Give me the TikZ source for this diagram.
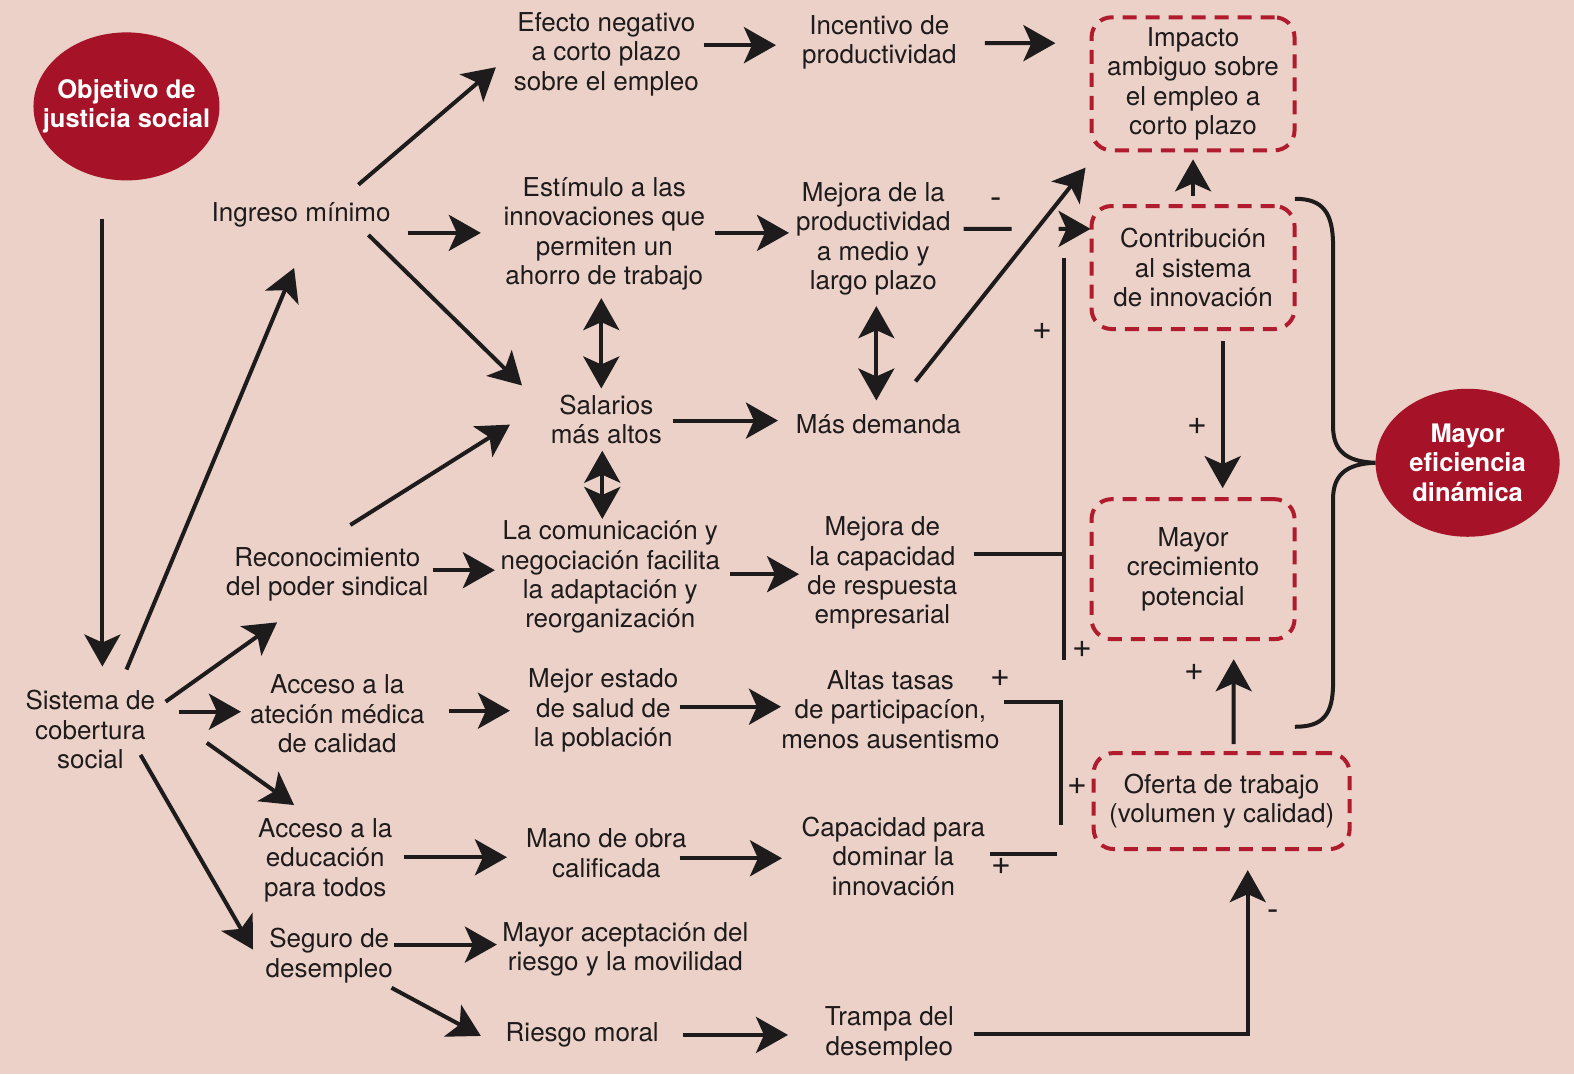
\documentclass[tikz,border=0pt]{standalone}
\usepackage{fontspec}
\setmainfont{TeX Gyre Heros}
\usepackage{xcolor}
\usetikzlibrary{arrows.meta,shapes.geometric}
\definecolor{bgc}{RGB}{235,209,199}
\definecolor{jred}{RGB}{166,18,39}
\definecolor{dred}{RGB}{176,27,46}
\definecolor{ink}{RGB}{30,27,28}

\begin{document}
\begin{tikzpicture}[x=1.0038pt,y=-1.0038pt,>={Stealth[length=32pt,width=36pt,inset=8pt]},
  font=\fontsize{26}{29.4}\selectfont,color=ink,
  txt/.style={align=center,inner sep=0pt,yshift=-2pt},
  arr/.style={->,line width=4pt},
  darr/.style={<->,line width=4pt},
  ln/.style={line width=4pt},
  sgn/.style={inner sep=0pt,font=\fontsize{34}{34}\selectfont},
  dbox/.style={draw=dred,line width=4pt,dash pattern=on 14pt off 9pt,
    rounded corners=20pt,align=center,inner sep=0pt},
  goal/.style={ellipse,fill=jred,text=white,align=center,inner xsep=-18pt,inner ysep=0pt,
    font=\fontsize{25.5}{29.3}\selectfont\bfseries}]
  \fill[bgc] (0,0) rectangle (1568,1070);
  \useasboundingbox (0,0) rectangle (1568,1070);

  % goals
  \node[goal,minimum width=186pt,minimum height=148pt] (obj) at (126,106) {Objetivo de\\justicia social};
  \node[goal,minimum width=184pt,minimum height=148pt] (efi) at (1462,461) {Mayor\\eficiencia\\dinámica};

  % first column
  \node[txt] (sis) at (90,725) {Sistema de\\cobertura\\social};
  \node[txt] (ing) at (300,212) {Ingreso mínimo};
  \node[txt] (rec) at (326,570) {Reconocimiento\\del poder sindical};
  \node[txt] (acm) at (336,709) {Acceso a la\\ateción médica\\de calidad};
  \node[txt] (ace) at (324,855) {Acceso a la\\educación\\para todos};
  \node[txt] (seg) at (328,950) {Seguro de\\desempleo};

  % middle columns
  \node[txt] (efe) at (604,52) {Efecto negativo\\a corto plazo\\sobre el empleo};
  \node[txt] (est) at (602,231) {Estímulo a las\\innovaciones que\\permiten un\\ahorro de trabajo};
  \node[txt] (sal) at (604,416) {Salarios\\más altos};
  \node[txt] (com) at (608,573) {La comunicación y\\negociación facilita\\la adaptación y\\reorganización};
  \node[txt] (mej) at (601,706) {Mejor estado\\de salud de\\la población};
  \node[txt] (man) at (604,848) {Mano de obra\\calificada};
  \node[txt] (may) at (623,944) {Mayor aceptación del\\riesgo y la movilidad};
  \node[txt] (rie) at (580,1029) {Riesgo moral};

  \node[txt] (inc) at (876,40) {Incentivo de\\productividad};
  \node[txt] (mprod) at (870,236) {Mejora de la\\productividad\\a medio y\\largo plazo};
  \node[txt] (mdem) at (875,421) {Más demanda};
  \node[txt] (mcap) at (879,569) {Mejora de\\la capacidad\\de respuesta\\empresarial};
  \node[txt] (alt) at (887,705) {Altas tasas\\de participacíon,\\menos ausentismo};
  \node[txt] (cap) at (890,851) {Capacidad para\\dominar la\\innovación};
  \node[txt] (tra) at (886,1028) {Trampa del\\desempleo};

  % outcome boxes
  \node[dbox,minimum width=203pt,minimum height=133pt] (imp) at (1188.5,83.5) {Impacto\\ambiguo sobre\\el empleo a\\corto plazo};
  \node[dbox,minimum width=203pt,minimum height=123pt] (con) at (1188.5,266.5) {Contribución\\al sistema\\de innovación};
  \node[dbox,minimum width=203pt,minimum height=140pt] (cre) at (1188.5,567) {Mayor\\crecimiento\\potencial};
  \node[dbox,minimum width=256pt,minimum height=96pt] (ofe) at (1217,798) {Oferta de trabajo\\(volumen y calidad)};

  % collector lines
  \coordinate (c1t) at (1060,257);
  \coordinate (c1b) at (1060,657);
  \coordinate (c2b) at (1057,822);

  % arrows from the left
  \draw[arr] ([shift={(-24,112)}]obj.center) -- ([shift={(12,-63)}]sis.center);
  \draw[arr] ([shift={(36,-60)}]sis.center) -- ([shift={(-7,53)}]ing.center);
  \draw[arr] ([shift={(75,-28)}]sis.center) -- ([shift={(-50,48)}]rec.center);
  \draw[arr] ([shift={(88,-18)}]sis.center) -- ([shift={(-96,-2)}]acm.center);
  \draw[arr] ([shift={(116,13)}]sis.center) -- ([shift={(-31,-55)}]ace.center);
  \draw[arr] ([shift={(50,25)}]sis.center) -- ([shift={(-76,-6)}]seg.center);

  \draw[arr] ([shift={(57,-30)}]ing.center) -- ([shift={(-110,13)}]efe.center);
  \draw[arr] ([shift={(106,18)}]ing.center) -- ([shift={(-123,-1)}]est.center);
  \draw[arr] ([shift={(67,20)}]ing.center) -- ([shift={(-84,-34)}]sal.center);
  \draw[arr] ([shift={(23,-49)}]rec.center) -- ([shift={(-96,5)}]sal.center);
  \draw[arr] ([shift={(105,-4)}]rec.center) -- ([shift={(-115,-7)}]com.center);
  \draw[arr] ([shift={(111,-3)}]acm.center) -- ([shift={(-93,0)}]mej.center);
  \draw[arr] ([shift={(78,-3)}]ace.center) -- ([shift={(-99,4)}]man.center);
  \draw[arr] ([shift={(64,-11)}]seg.center) -- ([shift={(-128,-5)}]may.center);
  \draw[arr] ([shift={(62,32)}]seg.center) -- ([shift={(-101,1)}]rie.center);

  % middle
  \draw[arr] ([shift={(97,-9)}]efe.center) -- ([shift={(-103,3)}]inc.center);
  \draw[arr] ([shift={(105,1)}]inc.center) -- ([shift={(-34,-40.5)}]imp.west);
  \draw[arr] ([shift={(110,-1)}]est.center) -- ([shift={(-84,-6)}]mprod.center);
  \draw[darr] ([shift={(-3,64)}]est.center) -- ([shift={(-5,-31)}]sal.center);
  \draw[darr] ([shift={(3,67)}]mprod.center) -- ([shift={(-2,-24)}]mdem.center);
  \draw[darr] ([shift={(-4,31)}]sal.center) -- ([shift={(-8,-58)}]com.center);
  \draw[arr] ([shift={(66,1)}]sal.center) -- ([shift={(-100,-4)}]mdem.center);
  \draw[arr] ([shift={(119,-3)}]com.center) -- ([shift={(-83,1)}]mcap.center);
  \draw[arr] ([shift={(76,-4)}]mej.center) -- ([shift={(-109,-3)}]alt.center);
  \draw[arr] ([shift={(73,5)}]man.center) -- ([shift={(-111,2)}]cap.center);
  \draw[arr] ([shift={(100,0)}]rie.center) -- ([shift={(-101,1)}]tra.center);

  % into the boxes
  \draw[arr,dash pattern=on 48pt off 47pt on 300pt] ([shift={(90,-10)}]mprod.center) -- ([shift={(1,-38.5)}]con.west);
  \draw[arr] ([shift={(37,-43)}]mdem.center) -- ([shift={(-4,83.5)}]imp.west);
  \draw[ln] (c1t) -- (c1b);
  \draw[ln] ([shift={(91,-19)}]mcap.center) -| (c1b);
  \draw[ln] ([shift={(113,-8)}]alt.center) -| (c2b);
  \draw[ln] ([shift={(96,-2)}]cap.center) -- ++(67,0);
  \draw[arr] ([shift={(84,0)}]tra.center) -| ([shift={(26,19)}]ofe.south);
  \draw[arr] ([shift={(0,-8)}]con.north) -- ([shift={(0,7)}]imp.south);
  \draw[arr] ([shift={(29.5,10)}]con.south) -- ([shift={(29.5,-9)}]cre.north);
  \draw[arr] ([shift={(12,-7)}]ofe.north) -- ([shift={(40.5,18)}]cre.south);

  % brace
  \draw[ln] (1290,198) .. controls (1318,198) and (1328,212) .. (1328,245) -- (1328,425)
    .. controls (1328,448) and (1340,460) .. (efi.west) .. controls (1340,462) and (1328,474) .. (1328,497)
    -- (1328,680) .. controls (1328,712) and (1318,724) .. (1290,724);

  % signs
  \node[sgn] (m1) at (992,202) {-};
  \node[sgn] (m2) at (1268,912) {-};
  \node[sgn] (p1) at (1038,330) {+};
  \node[sgn] (p2) at (1078,647) {+};
  \node[sgn] (p3) at (1193,425) {+};
  \node[sgn] (p4) at (1190,670) {+};
  \node[sgn] (p5) at (997,676) {+};
  \node[sgn] (p6) at (1073,783) {+};
  \node[sgn] (p7) at (998,863) {+};
\end{tikzpicture}
\end{document}
